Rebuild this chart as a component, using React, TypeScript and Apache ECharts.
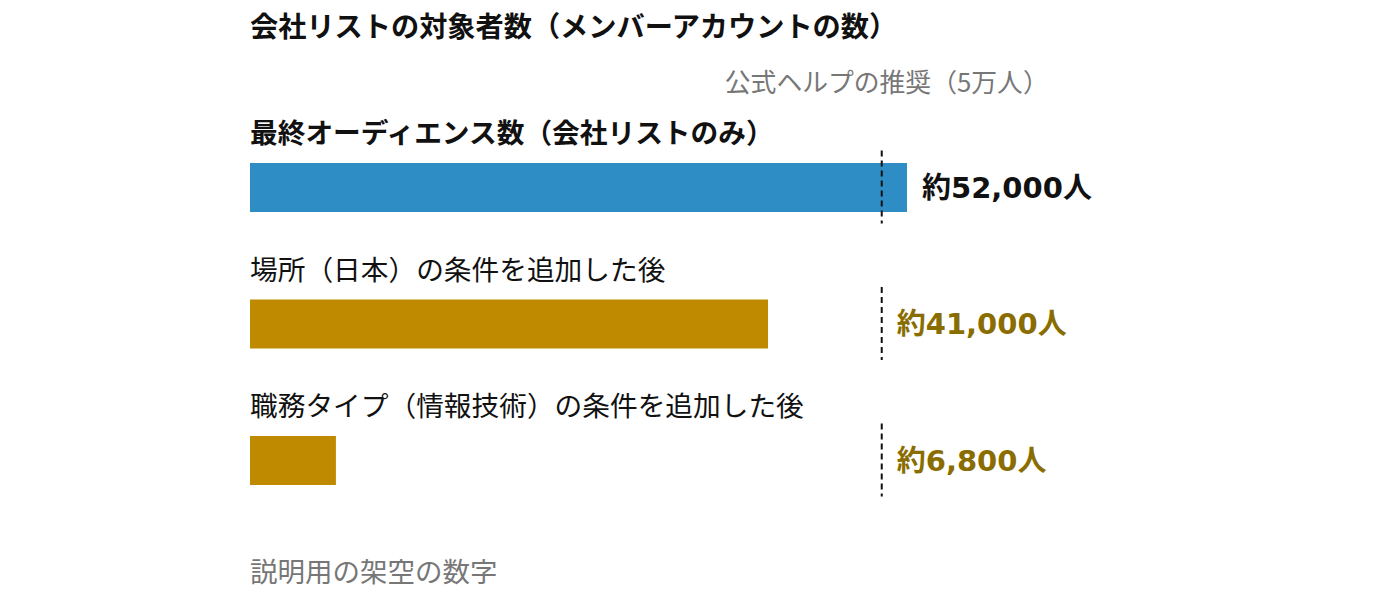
import React, { useEffect, useRef } from "react";
import * as echarts from "echarts";

const chartTitle = "会社リストの対象者数（メンバーアカウントの数）";
const footerNote = "説明用の架空の数字";
const categories = [
  "最終オーディエンス数（会社リストのみ）",
  "場所（日本）の条件を追加した後",
  "職務タイプ（情報技術）の条件を追加した後",
];
const values = [52000, 41000, 6800];
const recommendedValue = 50000;
const recommendedLabel = "公式ヘルプの推奨（5万人）";

const barColors = ["#2F8DC5", "#BF8A00", "#BF8A00"];
const valueLabelColors = ["#111111", "#8A6D00", "#8A6D00"];
const categoryWeights = ["bold", "normal", "normal"];

const FONT = "'Noto Sans CJK JP', 'Noto Sans', sans-serif";
const NUM_FONT = "'DejaVu Sans', 'Noto Sans CJK JP', sans-serif";

export default function App() {
  const ref = useRef<HTMLDivElement>(null);
  useEffect(() => {
    if (!ref.current) return;
    const chart = echarts.init(ref.current, null, { renderer: "svg" });
    const helperValues = values.map((v) => Math.max(v, recommendedValue));
    chart.setOption({
      animation: false,
      backgroundColor: "#ffffff",
      textStyle: { fontFamily: FONT },
      title: [
        {
          text: chartTitle,
          left: 250,
          top: 10,
          padding: 0,
          textStyle: { fontFamily: FONT, fontSize: 28.2, fontWeight: "bold", color: "#111111" },
        },
        {
          text: footerNote,
          left: 250,
          top: 556,
          padding: 0,
          textStyle: { fontFamily: FONT, fontSize: 27.5, fontWeight: "normal", color: "#777777" },
        },
      ],
      grid: { left: 250, right: 120.23, top: 119.25, bottom: 72.25 },
      xAxis: { type: "value", min: 0, max: 80000, show: false },
      yAxis: { type: "category", data: categories, inverse: true, show: false },
      series: [
        {
          type: "bar",
          barWidth: 49,
          barGap: "-100%",
          data: values.map((v, i) => ({
            value: v,
            itemStyle: { color: barColors[i] },
            label: {
              show: true,
              position: [0, -32],
              align: "left",
              verticalAlign: "middle",
              formatter: () => categories[i],
              fontFamily: FONT,
              fontSize: 27.7,
              fontWeight: categoryWeights[i],
              color: "#111111",
            },
          })),
          silent: true,
        },
        {
          type: "bar",
          barWidth: 49,
          barGap: "-100%",
          itemStyle: { color: "rgba(0,0,0,0)" },
          data: helperValues.map((v, i) => ({
            value: v,
            label: {
              show: true,
              position: "right",
              distance: 15,
              formatter: () => "約" + values[i].toLocaleString("en-US") + "人",
              fontFamily: NUM_FONT,
              fontSize: 29,
              fontWeight: "bold",
              color: valueLabelColors[i],
            },
          })),
          silent: true,
          z: 1,
        },
        {
          type: "custom",
          clip: false,
          silent: true,
          z: 5,
          encode: { x: 0, y: 1 },
          data: categories.map((_, i) => [recommendedValue, i]),
          renderItem: (params: any, api: any) => {
            const p = api.coord([api.value(0), api.value(1)]);
            const children: any[] = [
              {
                type: "line",
                shape: { x1: p[0], y1: p[1] - 37, x2: p[0], y2: p[1] + 36 },
                style: { stroke: "#111111", lineWidth: 2, lineDash: [6, 4] },
              },
            ];
            if (params.dataIndex === 0) {
              children.push({
                type: "text",
                x: p[0] + 5,
                y: p[1] - 107,
                style: {
                  text: recommendedLabel,
                  fontFamily: FONT,
                  fontSize: 25.8,
                  fill: "#777777",
                  align: "center",
                  verticalAlign: "middle",
                },
              });
            }
            return { type: "group", children };
          },
        },
      ],
    });
    return () => chart.dispose();
  }, []);
  return (
    <div
      ref={ref}
      style={{ position: "fixed", left: 0, top: 0, width: 1381, height: 601, background: "#fff" }}
    />
  );
}
